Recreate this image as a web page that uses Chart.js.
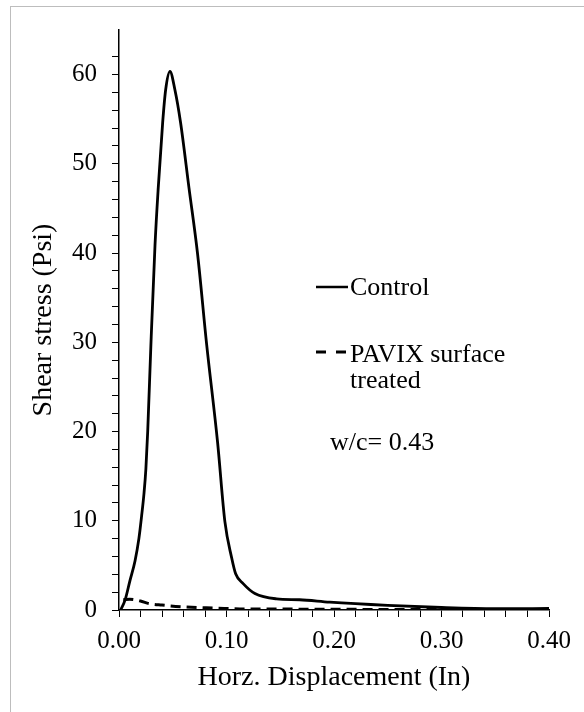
<!DOCTYPE html>
<html>
<head>
<meta charset="utf-8">
<script src="https://cdn.jsdelivr.net/npm/chart.js@4/dist/chart.umd.min.js"></script>
<style>
  body { margin: 0; background: #fff; }
  #wrap { position: relative; width: 584px; height: 712px; overflow: hidden; }
  #frame { position: absolute; left: 10px; top: 6px; width: 640px; height: 760px;
           border-left: 1.5px solid #bdbdbd; border-top: 1.5px solid #bdbdbd; }
  #chartShear { position: absolute; left: 0; top: 0; }
</style>
</head>
<body>
<div id="wrap">
  <div id="frame"></div>
  <canvas id="chartShear" width="584" height="712"></canvas>
</div>
<script>
// displacement (in) / shear stress (psi)
var controlX = [0.0016, 0.0056, 0.0102, 0.0149, 0.0185, 0.0210, 0.0232, 0.0250, 0.0267, 0.0297, 0.0335, 0.0365, 0.0406, 0.0434, 0.0474, 0.052, 0.0573, 0.0651, 0.0731, 0.0815, 0.0917, 0.0985, 0.1047, 0.1085, 0.1155, 0.1264, 0.1466, 0.168, 0.196, 0.25, 0.30, 0.35, 0.40];
var controlY = [0, 1.1, 3.3, 5.5, 8.0, 10.5, 13.0, 15.8, 20, 29.8, 40.9, 47.3, 54.6, 58.3, 60.35, 58.3, 54.6, 47.3, 39.9, 29.8, 18.8, 9.9, 5.9, 4.06, 2.96, 1.85, 1.25, 1.15, 0.88, 0.52, 0.28, 0.15, 0.17];

var pavixX = [0.004, 0.01, 0.02, 0.027, 0.04, 0.058, 0.089, 0.12, 0.15, 0.2, 0.25, 0.3, 0.35, 0.4];
var pavixY = [1.15, 1.2, 1.0, 0.74, 0.55, 0.37, 0.22, 0.1, 0.1, 0.08, 0.06, 0.05, 0.05, 0.05];

var xTickLabels = ['0.00', '0.10', '0.20', '0.30', '0.40'];
var yTickLabels = [0, 10, 20, 30, 40, 50, 60];

function toPoints(xs, ys) {
    var pts = [];
    for (var i = 0; i < xs.length; i++) pts.push({x: xs[i], y: ys[i]});
    return pts;
}

var serif = 'Liberation Serif';

// legend and note text, drawn over the plot
var notesPlugin = {
    id: 'notes',
    afterDraw: function(chart) {
        var c = chart.ctx;
        c.save();
        c.fillStyle = '#000';
        c.strokeStyle = '#000';
        c.font = '26px "' + serif + '"';
        c.textBaseline = 'alphabetic';
        // solid sample
        c.lineWidth = 2.5;
        c.beginPath(); c.moveTo(316, 287); c.lineTo(348, 287); c.stroke();
        c.fillText('Control', 350, 295);
        // dashed sample
        c.lineWidth = 3;
        c.beginPath(); c.moveTo(316, 352); c.lineTo(326, 352); c.moveTo(336, 352); c.lineTo(346, 352); c.stroke();
        c.fillText('PAVIX surface', 350, 362);
        c.fillText('treated', 350, 388);
        c.fillText('w/c= 0.43', 330, 450);
        c.restore();
    }
};

var ctx = document.getElementById('chartShear');
var shearChart = new Chart(ctx, {
    type: 'line',
    data: {
        datasets: [{
            label: 'Control',
            data: toPoints(controlX, controlY),
            borderColor: '#000',
            borderWidth: 2.8,
            pointRadius: 0,
            cubicInterpolationMode: 'monotone',
            fill: false
        }, {
            label: 'PAVIX surface treated',
            data: toPoints(pavixX, pavixY),
            borderColor: '#000',
            borderWidth: 3,
            borderDash: [10, 6],
            pointRadius: 0,
            cubicInterpolationMode: 'monotone',
            fill: false
        }]
    },
    options: {
        responsive: false,
        animation: false,
        layout: { padding: { left: 0, top: 23, right: 35, bottom: 0 } },
        plugins: {
            legend: { display: false },
            tooltip: { enabled: false }
        },
        scales: {
            x: {
                type: 'linear',
                min: 0,
                max: 0.4,
                afterFit: function(scale) { scale.height = 102; },
                border: { color: '#000', width: 1.5 },
                grid: { drawOnChartArea: false, drawTicks: true, tickLength: 7, color: '#000' },
                ticks: {
                    stepSize: 0.02,
                    autoSkip: false,
                    maxRotation: 0,
                    padding: 9,
                    color: '#000',
                    font: { family: serif, size: 25 },
                    callback: function(v) {
                        var k = Math.round(v * 10);
                        return Math.abs(v * 10 - k) < 1e-6 ? xTickLabels[k] : '';
                    }
                },
                title: {
                    display: true,
                    text: 'Horz. Displacement (In)',
                    color: '#000',
                    font: { family: serif, size: 28 },
                    padding: { top: 0, bottom: 18 }
                }
            },
            y: {
                type: 'linear',
                min: 0,
                max: 65,
                afterFit: function(scale) { scale.width = 119; },
                afterBuildTicks: function(scale) {
                    scale.ticks = scale.ticks.filter(function(t) { return t.value % 2 === 0; });
                },
                border: { color: '#000', width: 1.5 },
                grid: { drawOnChartArea: false, drawTicks: true, tickLength: 7, color: '#000' },
                ticks: {
                    stepSize: 2,
                    autoSkip: false,
                    padding: 15,
                    color: '#000',
                    font: { family: serif, size: 25 },
                    callback: function(v) {
                        return v % 10 === 0 ? String(yTickLabels[v / 10]) : '';
                    }
                },
                title: {
                    display: true,
                    text: 'Shear stress (Psi)',
                    color: '#000',
                    font: { family: serif, size: 28 },
                    padding: { top: 27, bottom: 0 }
                }
            }
        }
    },
    plugins: [notesPlugin]
});
</script>
</body>
</html>
